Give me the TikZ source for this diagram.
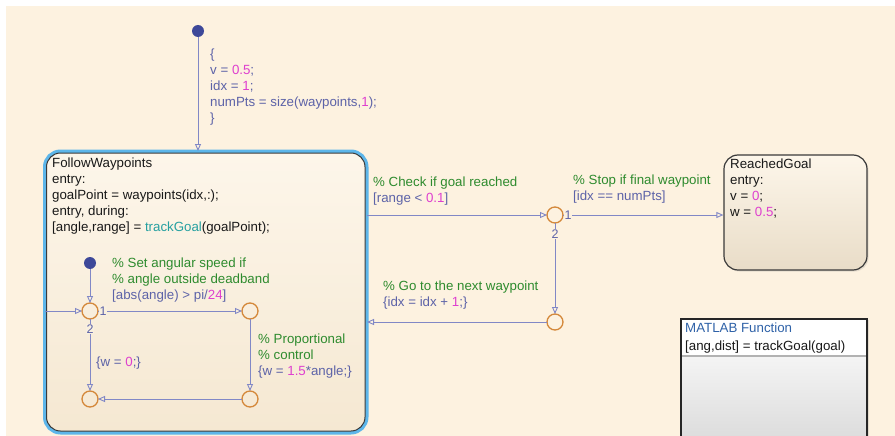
\documentclass[tikz,border=0pt]{standalone}
\usepackage{fontspec}
\setmainfont{Liberation Sans}
\usetikzlibrary{arrows.meta,positioning,shadows}
\definecolor{bgcream}{HTML}{FDF2E0}
\definecolor{statetop}{HTML}{FDF6EA}
\definecolor{statebot}{HTML}{F5E8D2}
\definecolor{selblue}{HTML}{5DB6EA}
\definecolor{stateline}{HTML}{3A3A3A}
\definecolor{transline}{HTML}{8188C6}
\definecolor{guardtxt}{HTML}{5D63A8}
\definecolor{cmtgreen}{HTML}{2E8B2E}
\definecolor{numpink}{HTML}{DE3FCF}
\definecolor{fnteal}{HTML}{25A0A0}
\definecolor{junc}{HTML}{D4883A}
\definecolor{dotblue}{HTML}{3D4899}
\definecolor{fcnblue}{HTML}{2F62A8}
\newcommand\mnum[1]{\textcolor{numpink}{#1}}
\newcommand\mfun[1]{\textcolor{fnteal}{#1}}
\newcommand\mcmt[1]{\textcolor{cmtgreen}{#1}}
\begin{document}
\begin{tikzpicture}[x=1pt,y=-1pt,
    txt/.style={anchor=north west,inner sep=0pt,align=left,text=guardtxt,
      font=\fontsize{13.3}{16}\selectfont,execute at begin node=\strut},
    initdot/.style={circle,fill=dotblue,inner sep=0pt,minimum size=12pt},
    junction/.style={circle,draw=junc,line width=1.3pt,inner sep=0pt,
      minimum size=16pt,outer sep=0pt},
    branchno/.style={inner sep=0.8pt,fill=#1,text=guardtxt,
      font=\fontsize{12.5}{14}\selectfont},
    trans/.style={draw=transline,line width=0.9pt,
      -{Triangle[open,length=7pt,width=6pt]}},
    superstate/.style={rectangle,rounded corners=14pt,draw=stateline,
      line width=1pt,top color=statetop,bottom color=statebot,
      preaction={draw=selblue,line width=7pt},outer sep=2pt},
    leafstate/.style={rectangle,rounded corners=14pt,draw=stateline,
      line width=1.2pt,top color=statetop,bottom color=statebot!95!black,
      drop shadow={opacity=0.2,shadow xshift=1.5pt,shadow yshift=-1.5pt}},
    fcnblock/.style={rectangle,draw=black!85,line width=2.2pt,
      top color=white,bottom color=black!16,
      drop shadow={opacity=0.2,shadow xshift=2pt,shadow yshift=-1pt},
      path picture={
        \fill[white] (path picture bounding box.north west) rectangle
          ([yshift=-37pt]path picture bounding box.north east);
        \draw[black!30] ([yshift=-37pt]path picture bounding box.north west)
          -- ([yshift=-37pt]path picture bounding box.north east);}}
  ]
  \useasboundingbox (0,0) rectangle (895,436);
  \clip (0,0) rectangle (895,436);
  \fill[white] (0,0) rectangle (895,436);
  \fill[bgcream] (6,6) rectangle (895,436);

  % charts
  \node[superstate,minimum width=318.5pt,minimum height=278pt] (follow) at (205.75,292) {};
  \node[leafstate,minimum width=143pt,minimum height=115pt] (reached) at (795.5,212.5) {};
  \node[fcnblock,anchor=north west,minimum width=186pt,minimum height=140pt] (fcn) at (680,318) {};

  % default transitions and junctions
  \node[initdot] (init) at (198,31) {};
  \node[initdot] (initin) at (90,263) {};
  \node[junction] (ja) at (90,311) {};
  \node[junction] (jb) at (250,311) {};
  \node[junction] (jc) at (250,399) {};
  \node[junction] (jd) at (90,399) {};
  \node[junction] (je) at (555,215) {};
  \node[junction] (jf) at (555,322) {};

  \begin{scope}[trans]
    \draw (init) to (init |- follow.north);
    \draw (je -| follow.east) to (je);
    \draw (je) to (je -| reached.west);
    \draw (je) to (jf);
    \draw (jf) to (jf -| follow.east);
    \draw (ja -| follow.west) to (ja);
    \draw (initin) to (ja);
    \draw (ja) to (jb);
    \draw (jb) to (jc);
    \draw (jc) to (jd);
    \draw (ja) to (jd);
  \end{scope}

  \node[branchno=statetop!55!statebot] (ja1) at (103,311) {1};
  \node[branchno=statetop!55!statebot] (ja2) at (90,329) {2};
  \node[branchno=bgcream] (je1) at (568,215) {1};
  \node[branchno=bgcream] (je2) at (555,234) {2};

  % labels
  \node[txt] (inittext) at (210,49)
    {\{\\ v = \mnum{0.5};\\ idx = \mnum{1};\\ numPts = size(waypoints,\mnum{1});\\ \}};
  \node[txt,text=black!90] (followtext) at (52,157.8)
    {FollowWaypoints\\ entry:\\ goalPoint = waypoints(idx,:);\\ entry, during:\\
     {}[angle,range] = \mfun{trackGoal}(goalPoint);};
  \node[txt] (speedtext) at (112,257.6)
    {\mcmt{\% Set angular speed if}\\ \mcmt{\% angle outside deadband}\\
     {}[abs(angle) > pi/\mnum{24}]};
  \node[txt] (wzerotext) at (96,354.8) {\{w = \mnum{0};\}};
  \node[txt] (proptext) at (258,333.6)
    {\mcmt{\% Proportional}\\ \mcmt{\% control}\\ \{w = \mnum{1.5}*angle;\}};
  \node[txt] (checktext) at (373,176.6)
    {\mcmt{\% Check if goal reached}\\ {}[range < \mnum{0.1}]};
  \node[txt] (stoptext) at (573,174.2)
    {\mcmt{\% Stop if final waypoint}\\ {}[idx == numPts]};
  \node[txt] (nexttext) at (383,280.6)
    {\mcmt{\% Go to the next waypoint}\\ \{idx = idx + \mnum{1};\}};
  \node[txt,text=black!90] (reachedtext) at (730,158.6)
    {ReachedGoal\\ entry:\\ v = \mnum{0};\\ w = \mnum{0.5};};
  \node[txt,text=black!90,font=\fontsize{13.3}{18}\selectfont] (fcntext) at (685,322.3)
    {\textcolor{fcnblue}{MATLAB Function}\\ {}[ang,dist] = trackGoal(goal)};
\end{tikzpicture}
\end{document}
